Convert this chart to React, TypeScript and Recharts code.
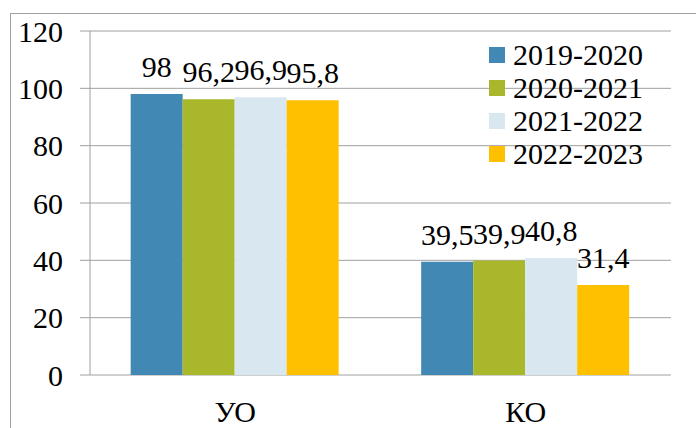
import React from 'react';
import { BarChart, Bar, XAxis, YAxis, CartesianGrid, Legend, LabelList } from 'recharts';

const categories = ['УО', 'КО'];
const seriesNames = ['2019-2020', '2020-2021', '2021-2022', '2022-2023'];
const values2019 = [98, 39.5];
const values2020 = [96.2, 39.9];
const values2021 = [96.9, 40.8];
const values2022 = [95.8, 31.4];
const yTicks = [0, 20, 40, 60, 80, 100, 120];

const colors = ['#4189b4', '#a8b82a', '#d8e7f0', '#ffc000'];
const FONT = 'Liberation Serif, Tinos, Times New Roman, DejaVu Serif, serif';
const GRAY = '#a0a0a0';

const allValues = [values2019, values2020, values2021, values2022];
const data = categories.map((name, i) => {
  const row: Record<string, string | number> = { name };
  seriesNames.forEach((s, k) => {
    row[s] = allValues[k][i];
  });
  return row;
});

const fmt = (v: any) => String(v).replace('.', ',');

const LegendBox = () => (
  <div style={{ fontFamily: FONT, fontSize: 30, color: '#000' }}>
    {seriesNames.map((s, i) => (
      <div key={s} style={{ display: 'flex', alignItems: 'center', height: 33, lineHeight: '33px' }}>
        <span style={{ width: 16, height: 16, background: colors[i], marginRight: 8, display: 'inline-block' }} />
        <span>{s}</span>
      </div>
    ))}
  </div>
);

export default function App() {
  return (
    <div style={{ position: 'absolute', left: 0, top: 0, width: 696, height: 428, fontFamily: FONT }}>
      <div
        style={{
          position: 'absolute',
          left: 10,
          top: 13,
          width: 700,
          height: 420,
          borderLeft: `1px solid ${GRAY}`,
          borderTop: `1px solid ${GRAY}`,
        }}
      />
      <div style={{ position: 'absolute', left: 0, top: 0 }}>
        <BarChart
          width={696}
          height={428}
          data={data}
          margin={{ top: 31, right: 25, left: 0, bottom: 0 }}
          barCategoryGap="14%"
          barGap={0}
          style={{ fontFamily: FONT }}
        >
          <CartesianGrid vertical={false} stroke={GRAY} />
          <XAxis
            type="number"
            domain={[0, 2]}
            ticks={[0, 1, 2]}
            interval={0}
            height={0}
            stroke={GRAY}
            tickSize={9}
            tickFormatter={() => ''}
          />
          <XAxis
            xAxisId="cat"
            dataKey="name"
            height={53}
            axisLine={false}
            tickLine={false}
            tickSize={0}
            tickMargin={26}
            tick={{ fontSize: 30, fontFamily: FONT, fill: '#000' }}
          />
          <YAxis
            width={90}
            domain={[0, 120]}
            ticks={yTicks}
            interval={0}
            stroke={GRAY}
            tickSize={10}
            tickMargin={17}
            tick={{ fontSize: 30, fontFamily: FONT, fill: '#000' }}
          />
          <Legend
            layout="vertical"
            align="center"
            verticalAlign="middle"
            wrapperStyle={{ position: 'absolute', left: 489, top: 38, width: 200 }}
            content={() => <LegendBox />}
          />
          {seriesNames.map((s, i) => (
            <Bar key={s} dataKey={s} xAxisId="cat" fill={colors[i]} isAnimationActive={false}>
              <LabelList
                dataKey={s}
                position="top"
                offset={17}
                formatter={fmt}
                style={{ fontSize: 30, fontFamily: FONT, fill: '#000' }}
              />
            </Bar>
          ))}
        </BarChart>
      </div>
    </div>
  );
}
